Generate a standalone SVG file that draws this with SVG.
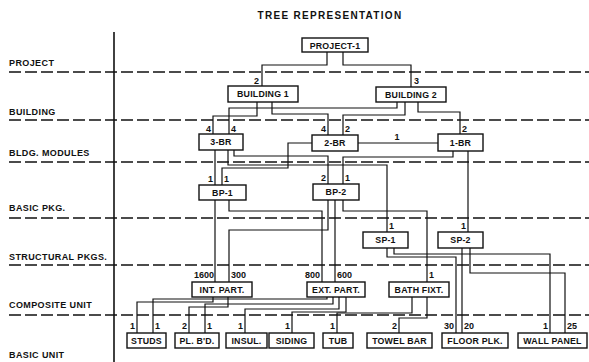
<svg xmlns="http://www.w3.org/2000/svg" width="589" height="362" viewBox="0 0 589 362">
<style>
.bg{fill:#fff}
.title{font-family:"Liberation Sans",Arial,sans-serif;font-weight:bold;font-size:10px;letter-spacing:1.3px;fill:#111}
.lvl{font-family:"Liberation Sans",Arial,sans-serif;font-weight:bold;font-size:9px;letter-spacing:0.4px;fill:#111}
.dash{stroke:#111;stroke-width:1.3;stroke-dasharray:12 4;fill:none}
.axis{stroke:#111;stroke-width:1.6;fill:none}
.box{fill:#fff;stroke:#111;stroke-width:1.4}
.nt{font-family:"Liberation Sans",Arial,sans-serif;font-weight:bold;font-size:8.8px;letter-spacing:0.2px;fill:#111;text-anchor:middle}
.c{stroke:#111;stroke-width:1.2;fill:none}
.n{font-family:"Liberation Sans",Arial,sans-serif;font-weight:bold;font-size:9px;fill:#111}
.e{text-anchor:end}
.m{text-anchor:middle}
</style>
<rect class="bg" x="0" y="0" width="589" height="362"/>
<text class="title" x="330" y="19" text-anchor="middle">TREE REPRESENTATION</text>

<g id="levels">
<text class="lvl" x="9" y="66">PROJECT</text>
<text class="lvl" x="9" y="115">BUILDING</text>
<text class="lvl" x="9" y="156">BLDG. MODULES</text>
<text class="lvl" x="9" y="211">BASIC PKG.</text>
<text class="lvl" x="9" y="260">STRUCTURAL PKGS.</text>
<text class="lvl" x="9" y="308">COMPOSITE UNIT</text>
<text class="lvl" x="9" y="358">BASIC UNIT</text>
<line class="dash" x1="9" y1="72" x2="589" y2="72"/>
<line class="dash" x1="9" y1="120" x2="589" y2="120"/>
<line class="dash" x1="9" y1="162" x2="589" y2="162"/>
<line class="dash" x1="9" y1="218" x2="589" y2="218"/>
<line class="dash" x1="9" y1="265" x2="589" y2="265"/>
<line class="dash" x1="9" y1="315" x2="589" y2="315"/>
<line class="axis" x1="114" y1="32" x2="114" y2="362"/>
</g>

<g id="connectors">
<path class="c" d="M327,52 V65 H262 V86"/>
<path class="c" d="M343,52 V65 H411 V87"/>
<path class="c" d="M257,102 V116 H213 V134"/>
<path class="c" d="M397,102 V108 H229 V134"/>
<path class="c" d="M272,102 V114 H328 V135"/>
<path class="c" d="M405,102 V115 H343 V135"/>
<path class="c" d="M418,102 V112 H460 V134"/>
<path class="c" d="M358,143 H438"/>
<path class="c" d="M312,143 H288 V168 H222 V185"/>
<path class="c" d="M215,150 V185"/>
<path class="c" d="M228,150 V165 H387 V232"/>
<path class="c" d="M234,150 V156 H328 V184"/>
<path class="c" d="M453,151 V157 H343 V184"/>
<path class="c" d="M468,151 V232"/>
<path class="c" d="M215,200 V282"/>
<path class="c" d="M229,200 V211 H322 V282"/>
<path class="c" d="M328,200 V230 H229 V282"/>
<path class="c" d="M335,200 V282"/>
<path class="c" d="M343,200 V211 H427 V282"/>
<path class="c" d="M387,248 V257 H456 V333"/>
<path class="c" d="M394,248 V254 H550 V333"/>
<path class="c" d="M462,248 V333"/>
<path class="c" d="M470,248 V273 H565 V333"/>
<path class="c" d="M213,297 V302 H137 V333"/>
<path class="c" d="M327,297 V299 H153 V333"/>
<path class="c" d="M228,297 V307 H189 V333"/>
<path class="c" d="M333,297 V304 H205 V333"/>
<path class="c" d="M339,297 V309 H245 V333"/>
<path class="c" d="M346,297 V312 H292 V333"/>
<path class="c" d="M412,297 V313 H337 V333"/>
<path class="c" d="M427,297 V318 H399 V333"/>
<text class="n e" x="259" y="84">2</text>
<text class="n" x="414" y="84">3</text>
<text class="n e" x="211" y="132">4</text>
<text class="n" x="231" y="132">4</text>
<text class="n e" x="326" y="132">4</text>
<text class="n" x="345" y="132">2</text>
<text class="n" x="462" y="132">2</text>
<text class="n m" x="397" y="140">1</text>
<text class="n e" x="213" y="182">1</text>
<text class="n" x="224" y="182">1</text>
<text class="n e" x="326" y="181">2</text>
<text class="n" x="345" y="181">1</text>
<text class="n" x="389" y="229">1</text>
<text class="n e" x="466" y="229">1</text>
<text class="n e" x="214" y="278">1600</text>
<text class="n" x="231" y="278">300</text>
<text class="n e" x="320" y="278">800</text>
<text class="n" x="337" y="278">600</text>
<text class="n" x="429" y="278">1</text>
<text class="n e" x="135" y="329">1</text>
<text class="n" x="155" y="329">1</text>
<text class="n e" x="187" y="329">2</text>
<text class="n" x="207" y="329">1</text>
<text class="n e" x="243" y="329">1</text>
<text class="n e" x="290" y="329">1</text>
<text class="n e" x="335" y="329">1</text>
<text class="n e" x="397" y="329">2</text>
<text class="n e" x="454" y="329">30</text>
<text class="n" x="464" y="329">20</text>
<text class="n e" x="548" y="329">1</text>
<text class="n" x="567" y="329">25</text>
</g>

<g id="project-1"><rect class="box" x="302" y="38" width="66" height="14"/><text class="nt" x="335" y="48.5">PROJECT-1</text></g>
<g id="building-1"><rect class="box" x="228" y="86" width="70" height="16"/><text class="nt" x="263" y="97">BUILDING 1</text></g>
<g id="building-2"><rect class="box" x="376" y="87" width="70" height="15"/><text class="nt" x="411" y="97.5">BUILDING 2</text></g>
<g id="br-3"><rect class="box" x="199" y="134" width="44" height="16"/><text class="nt" x="221" y="145">3-BR</text></g>
<g id="br-2"><rect class="box" x="312" y="135" width="46" height="16"/><text class="nt" x="335" y="146">2-BR</text></g>
<g id="br-1"><rect class="box" x="438" y="134" width="45" height="17"/><text class="nt" x="460.5" y="145.5">1-BR</text></g>
<g id="bp-1"><rect class="box" x="199" y="185" width="47" height="15"/><text class="nt" x="222.5" y="195.5">BP-1</text></g>
<g id="bp-2"><rect class="box" x="313" y="184" width="46" height="16"/><text class="nt" x="336" y="195">BP-2</text></g>
<g id="sp-1"><rect class="box" x="363" y="232" width="45" height="16"/><text class="nt" x="385.5" y="243">SP-1</text></g>
<g id="sp-2"><rect class="box" x="438" y="232" width="45" height="16"/><text class="nt" x="460.5" y="243">SP-2</text></g>
<g id="int-part"><rect class="box" x="192" y="282" width="60" height="15"/><text class="nt" x="222" y="292.5">INT. PART.</text></g>
<g id="ext-part"><rect class="box" x="307" y="282" width="58" height="15"/><text class="nt" x="336" y="292.5">EXT. PART.</text></g>
<g id="bath-fixt"><rect class="box" x="389" y="282" width="60" height="15"/><text class="nt" x="419" y="292.5">BATH FIXT.</text></g>
<g id="studs"><rect class="box" x="127" y="333" width="39" height="15"/><text class="nt" x="146.5" y="343.5">STUDS</text></g>
<g id="pl-bd"><rect class="box" x="175" y="333" width="44" height="15"/><text class="nt" x="197" y="343.5">PL. B'D.</text></g>
<g id="insul"><rect class="box" x="226" y="333" width="41" height="15"/><text class="nt" x="246.5" y="343.5">INSUL.</text></g>
<g id="siding"><rect class="box" x="269" y="333" width="45" height="15"/><text class="nt" x="291.5" y="343.5">SIDING</text></g>
<g id="tub"><rect class="box" x="323" y="333" width="30" height="15"/><text class="nt" x="338" y="343.5">TUB</text></g>
<g id="towel-bar"><rect class="box" x="367" y="333" width="65" height="15"/><text class="nt" x="399.5" y="343.5">TOWEL BAR</text></g>
<g id="floor-plk"><rect class="box" x="442" y="333" width="66" height="15"/><text class="nt" x="475" y="343.5">FLOOR PLK.</text></g>
<g id="wall-panel"><rect class="box" x="518" y="333" width="69" height="15"/><text class="nt" x="552.5" y="343.5">WALL PANEL</text></g>
</svg>
